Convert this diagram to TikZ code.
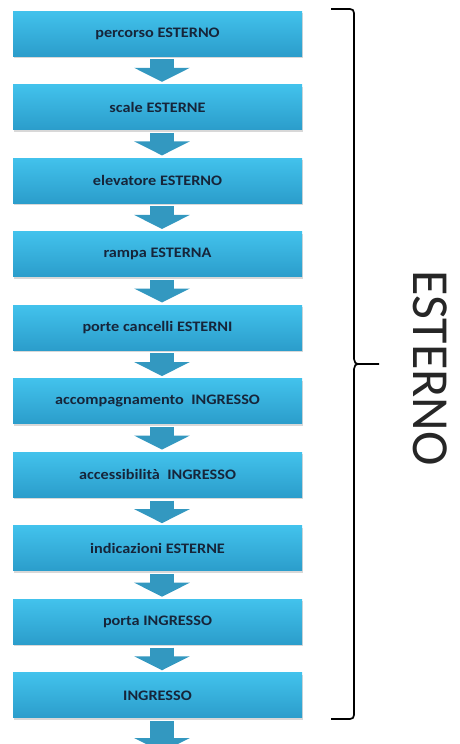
\documentclass[tikz,border=0pt]{standalone}
\usepackage{fontspec}
\setmainfont{Carlito}
\newfontfamily\boxfont[FakeStretch=1.12]{Carlito}
\usetikzlibrary{arrows.meta,shadows}
\definecolor{boxtop}{HTML}{42C2EC}
\definecolor{boxbot}{HTML}{2B9DCB}
\definecolor{arrowc}{HTML}{3398C0}
\definecolor{txt}{HTML}{16253A}
\tikzset{
  stepbox/.style={minimum width=289pt, minimum height=45pt, inner sep=0pt,
    top color=boxtop, bottom color=boxbot, draw=none, text=txt,
    font=\boxfont\bfseries\fontsize{14.5}{16}\selectfont,
    drop shadow={opacity=0.3, shadow xshift=1pt, shadow yshift=-2pt}},
  flow/.style={draw=arrowc, line width=24pt,
    -{Triangle[width=55pt,length=14pt]}},
  bracepath/.style={draw=black, line width=1.7pt},
}
\begin{document}
\begin{tikzpicture}[x=1pt,y=-1pt]
\useasboundingbox (0,0) rectangle (459,744);
\fill[white] (0,0) rectangle (459,744);
\foreach \i/\t in {1/percorso ESTERNO, 2/scale ESTERNE, 3/elevatore ESTERNO,
  4/rampa ESTERNA, 5/porte cancelli ESTERNI, 6/accompagnamento\ \ INGRESSO,
  7/accessibilità\ \ INGRESSO, 8/indicazioni ESTERNE, 9/porta INGRESSO, 10/INGRESSO}
  \node[stepbox] (b\i) at (157.5, {33.5+73.55*(\i-1)}) {\t};
\foreach \i [evaluate=\i as \j using int(\i+1)] in {1,...,9}
  \draw[flow] ([xshift=4.5pt,yshift=-3pt]b\i.south) -- ([xshift=4.5pt,yshift=2.5pt]b\j.north);
\coordinate (endtip) at (162,752);
\draw[flow] ([xshift=4.5pt,yshift=-3pt]b10.south) -- (endtip);
\draw[bracepath] (331,9) -- (350,9) .. controls (352.5,9) and (354,10.5) .. (354,13)
  -- (354,359) .. controls (354,362) and (355.5,364) .. (359,364) -- (379,364);
\draw[bracepath] (359,364) .. controls (355.5,364) and (354,366) .. (354,369)
  -- (354,715) .. controls (354,717.5) and (352.5,719) .. (350,719) -- (331,719);
\node[rotate=-90, font=\fontsize{52}{52}\selectfont, text=black!85] (lab) at (430,368) {ESTERNO};
\end{tikzpicture}
\end{document}
